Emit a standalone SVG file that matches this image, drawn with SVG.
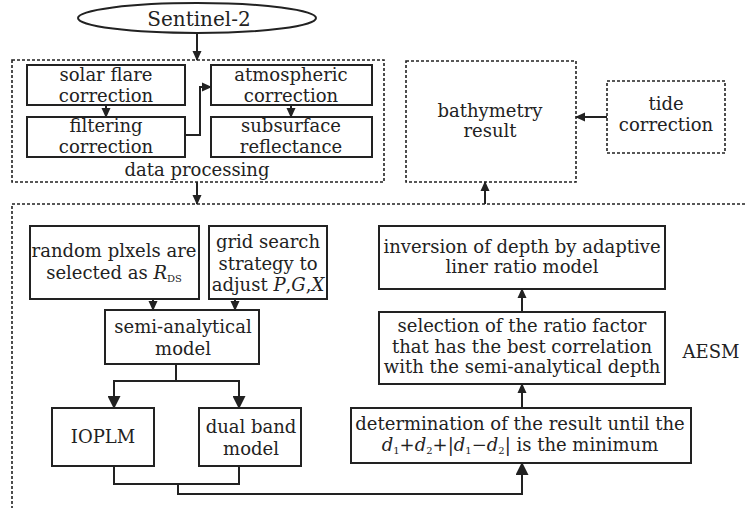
<svg xmlns="http://www.w3.org/2000/svg" width="747" height="508" viewBox="0 0 747 508">
<style>
.box{fill:#fff;stroke:#222;stroke-width:2}
.dash{fill:none;stroke:#222;stroke-width:1.6;stroke-dasharray:3 2}
.ln{fill:none;stroke:#222;stroke-width:2}
text{font-family:"DejaVu Serif","Liberation Serif",serif;font-size:18px;fill:#222;text-anchor:middle}
.it{font-style:italic}
.sub{font-size:10px}
</style>
<defs>
<marker id="ah" markerWidth="10" markerHeight="10" refX="9" refY="5" orient="auto" markerUnits="userSpaceOnUse"><path d="M0,0.5 L10,5 L0,9.5 z" fill="#222"/></marker>
<marker id="ahb" markerWidth="13" markerHeight="13" refX="12" refY="6.5" orient="auto" markerUnits="userSpaceOnUse"><path d="M0,0 L13,6.5 L0,13 z" fill="#222"/></marker>
</defs>
<rect width="747" height="508" fill="#fff"/>

<g id="sentinel">
<ellipse cx="197" cy="18" rx="119" ry="15" class="box"/>
<text x="199" y="26" style="font-size:20px">Sentinel-2</text>
</g>

<g id="data-processing">
<rect x="12" y="60" width="372" height="122" class="dash"/>
<text x="197" y="176">data processing</text>
</g>
<g id="solar-flare">
<rect x="27" y="65" width="158" height="40" class="box"/>
<text x="106" y="81">solar flare</text>
<text x="106" y="102">correction</text>
</g>
<g id="filtering">
<rect x="27" y="117" width="158" height="40" class="box"/>
<text x="106" y="132">filtering</text>
<text x="106" y="153">correction</text>
</g>
<g id="atmospheric">
<rect x="211" y="65" width="161" height="40" class="box"/>
<text x="291" y="81">atmospheric</text>
<text x="291" y="102">correction</text>
</g>
<g id="subsurface">
<rect x="211" y="117" width="161" height="40" class="box"/>
<text x="291" y="132">subsurface</text>
<text x="291" y="153">reflectance</text>
</g>

<g id="bathymetry">
<rect x="406" y="61" width="170" height="121" class="dash"/>
<text x="490" y="117">bathymetry</text>
<text x="490" y="137">result</text>
</g>
<g id="tide">
<rect x="607" y="81" width="118" height="72" class="dash"/>
<text x="666" y="110">tide</text>
<text x="666" y="131">correction</text>
</g>

<g id="aesm">
<rect x="12" y="204" width="745" height="320" class="dash"/>
<text x="711" y="358">AESM</text>
</g>
<g id="random">
<rect x="30" y="226" width="169" height="73" class="box"/>
<text x="114" y="257">random plxels are</text>
<text x="114" y="279">selected as <tspan class="it">R</tspan><tspan class="sub" dy="3">DS</tspan></text>
</g>
<g id="grid">
<rect x="209" y="226" width="118" height="73" class="box"/>
<text x="268" y="248">grid search</text>
<text x="268" y="270">strategy to</text>
<text x="268" y="291">adjust <tspan class="it">P</tspan>,<tspan class="it">G</tspan>,<tspan class="it">X</tspan></text>
</g>
<g id="semi">
<rect x="105" y="310" width="154" height="54" class="box"/>
<text x="183" y="333">semi-analytical</text>
<text x="183" y="355">model</text>
</g>
<g id="ioplm">
<rect x="52" y="408" width="102" height="58" class="box"/>
<text x="103" y="443">IOPLM</text>
</g>
<g id="dual">
<rect x="199" y="408" width="102" height="58" class="box"/>
<text x="251" y="433">dual band</text>
<text x="251" y="455">model</text>
</g>
<g id="inversion">
<rect x="379" y="226" width="286" height="63" class="box"/>
<text x="522" y="253">inversion of depth by adaptive</text>
<text x="522" y="273">liner ratio model</text>
</g>
<g id="selection">
<rect x="379" y="312" width="286" height="72" class="box"/>
<text x="522" y="332">selection of the ratio factor</text>
<text x="522" y="353">that has the best correlation</text>
<text x="522" y="373">with the semi-analytical depth</text>
</g>
<g id="determination">
<rect x="351" y="408" width="340" height="55" class="box"/>
<text x="520" y="430">determination of the result until the</text>
<text x="520" y="451"><tspan class="it">d</tspan><tspan class="sub" dy="3">1</tspan><tspan dy="-3">+</tspan><tspan class="it">d</tspan><tspan class="sub" dy="3">2</tspan><tspan dy="-3">+|</tspan><tspan class="it">d</tspan><tspan class="sub" dy="3">1</tspan><tspan dy="-3">−</tspan><tspan class="it">d</tspan><tspan class="sub" dy="3">2</tspan><tspan dy="-3">| is the minimum</tspan></text>
</g>

<g id="connectors">
<path d="M197,33 V60" class="ln" marker-end="url(#ah)"/>
<path d="M106,105 V117" class="ln" marker-end="url(#ah)"/>
<path d="M291,105 V117" class="ln" marker-end="url(#ah)"/>
<path d="M185,135 H200 V87 H211" class="ln" marker-end="url(#ah)"/>
<path d="M197,182 V204" class="ln" marker-end="url(#ah)"/>
<path d="M607,117 H576" class="ln" marker-end="url(#ah)"/>
<path d="M485,204 V182" class="ln" marker-end="url(#ah)"/>
<path d="M153,299 V310" class="ln" marker-end="url(#ah)"/>
<path d="M235,299 V310" class="ln" marker-end="url(#ah)"/>
<path d="M176,364 V381 H114 V408" class="ln" marker-end="url(#ahb)"/>
<path d="M176,381 H239 V408" class="ln" marker-end="url(#ahb)"/>
<path d="M114,466 V484 H239 V466" class="ln"/>
<path d="M178,484 V494 H522 V463" class="ln" marker-end="url(#ahb)"/>
<path d="M522,408 V384" class="ln" marker-end="url(#ah)"/>
<path d="M522,312 V289" class="ln" marker-end="url(#ah)"/>
</g>
</svg>
